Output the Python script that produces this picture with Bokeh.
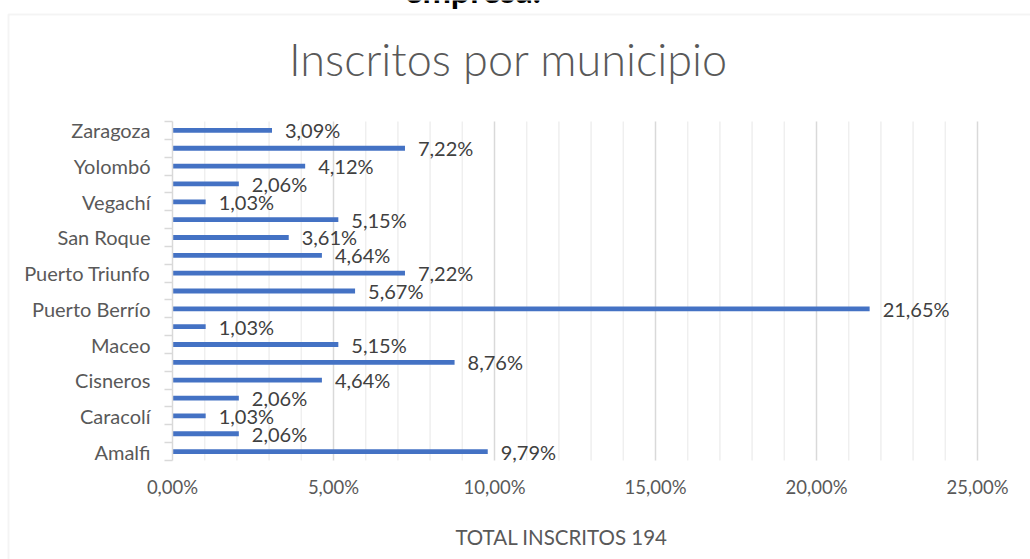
from bokeh.plotting import figure
from bokeh.models import (ColumnDataSource, FixedTicker, LabelSet, Label,
                          BoxAnnotation, Range1d)
from bokeh.core.properties import value
from bokeh.embed import file_html
from bokeh.resources import INLINE

# ---- data (bottom to top) ----
municipios = ["Amalfi", "Anorí", "Caracolí", "Caucasia", "Cisneros", "El Bagre",
              "Maceo", "Nechí", "Puerto Berrío", "Puerto Nare", "Puerto Triunfo",
              "Remedios", "San Roque", "Segovia", "Vegachí", "Yalí", "Yolombó",
              "Yondó", "Zaragoza"]
porcentajes = [9.79, 2.06, 1.03, 2.06, 4.64, 8.76, 5.15, 1.03, 21.65, 5.67,
               7.22, 4.64, 3.61, 5.15, 1.03, 2.06, 4.12, 7.22, 3.09]
etiquetas_visibles = ["Amalfi", "Caracolí", "Cisneros", "Maceo", "Puerto Berrío",
                      "Puerto Triunfo", "San Roque", "Vegachí", "Yolombó", "Zaragoza"]
x_ticks = [0, 5, 10, 15, 20, 25]
x_minor_ticks = list(range(0, 26))
x_tick_labels = ["0,00%", "5,00%", "10,00%", "15,00%", "20,00%", "25,00%"]
titulo = "Inscritos por municipio"
titulo_eje = "TOTAL INSCRITOS 194"
encabezado = "empresa."

# ---- layout (pixels) ----
W, H = 1030, 559
L, R, T, B = 172, 977, 121, 460      # plotting area of the bars
n = len(municipios)
XMAX = 25.0


def dx(px):
    return (px - L) / (R - L) * XMAX


def dy(py):
    return 0.5 + (B - py) / (B - T) * n


pos = list(range(1, n + 1))
labels = [f"{v:.2f}".replace(".", ",") + "%" for v in porcentajes]
src = ColumnDataSource(dict(y=pos, v=porcentajes, lab=labels, name=municipios))

p = figure(width=W, height=H, output_backend="svg", toolbar_location=None,
           x_range=Range1d(dx(0), dx(W)), y_range=Range1d(dy(H), dy(0)),
           min_border_left=0, min_border_right=0, min_border_top=0, min_border_bottom=0)
p.outline_line_color = None
p.background_fill_color = "white"
p.border_fill_color = "white"

FONT = "Lato"
GRAY = "#595959"

# chart frame border
p.add_layout(BoxAnnotation(left=dx(8), right=dx(W + 50), top=dy(14), bottom=dy(H + 50),
                           fill_alpha=0, fill_color=None, line_color="#d9d9d9",
                           line_width=2, level="underlay"))

# vertical grid lines (minor every 1 %, major every 5 %)
p.xgrid.visible = False
p.ygrid.visible = False
minor_only = [t for t in x_minor_ticks if t not in x_ticks]
p.segment(x0=minor_only, x1=minor_only, y0=[0.5] * len(minor_only),
          y1=[n + 0.5] * len(minor_only), line_color="#efefef", line_width=1.5)
p.segment(x0=x_ticks[1:], x1=x_ticks[1:], y0=[0.5] * (len(x_ticks) - 1),
          y1=[n + 0.5] * (len(x_ticks) - 1), line_color="#d9d9d9", line_width=1.5)

# bars
p.hbar(y="y", left=0, right="v", height=0.27, source=src,
       fill_color="#4472C4", line_color=None)

# data labels
p.add_layout(LabelSet(x="v", y="y", text="lab", source=src, x_offset=13, y_offset=0,
                      text_baseline="middle", text_align="left",
                      text_font=value(FONT), text_font_size="20px", text_color="#404040"))

# x axis (fixed at the bottom of the bar area)
xa = p.xaxis[0]
xa.fixed_location = 0.5
xa.bounds = (0, XMAX)
xa.ticker = FixedTicker(ticks=x_ticks, minor_ticks=x_minor_ticks)
xa.major_label_overrides = {t: s for t, s in zip(x_ticks, x_tick_labels)}
xa.axis_line_color = None
xa.major_tick_line_color = None
xa.minor_tick_line_color = None
xa.major_label_standoff = 9
xa.major_label_text_font = FONT
xa.major_label_text_font_size = "18.5px"
xa.major_label_text_color = GRAY

# y axis (fixed at 0 %)
ya = p.yaxis[0]
ya.fixed_location = 0
ya.bounds = (0.5, n + 0.5)
vis_pos = [pos[municipios.index(m)] for m in etiquetas_visibles]
ya.ticker = FixedTicker(ticks=vis_pos, minor_ticks=[k + 0.5 for k in range(0, n + 1)])
ya.major_label_overrides = {k: m for k, m in zip(vis_pos, etiquetas_visibles)}
ya.axis_line_color = "#d9d9d9"
ya.axis_line_width = 1.5
ya.major_tick_line_color = None
ya.minor_tick_line_color = "#d9d9d9"
ya.minor_tick_line_width = 1.5
ya.minor_tick_out = 8
ya.minor_tick_in = 0
ya.major_label_standoff = 14
ya.major_label_text_font = FONT
ya.major_label_text_font_size = "20px"
ya.major_label_text_color = GRAY

# title, axis title, cut-off heading
p.add_layout(Label(x=dx(508), y=dy(58), text=titulo, text_align="center",
                   text_baseline="alphabetic", text_font="Lato Light, Lato",
                   text_font_size="45px", text_color=GRAY))
p.add_layout(Label(x=dx(561), y=dy(536), text=titulo_eje, text_align="center",
                   text_baseline="middle", text_font=FONT, text_font_size="20.5px",
                   text_color=GRAY))
p.add_layout(Label(x=dx(472), y=dy(-11), text=encabezado, text_align="center",
                   text_baseline="alphabetic", text_font=FONT,
                   text_font_style="bold", text_font_size="34px", text_color="black"))

open("out.html", "w").write(file_html(p, INLINE))
